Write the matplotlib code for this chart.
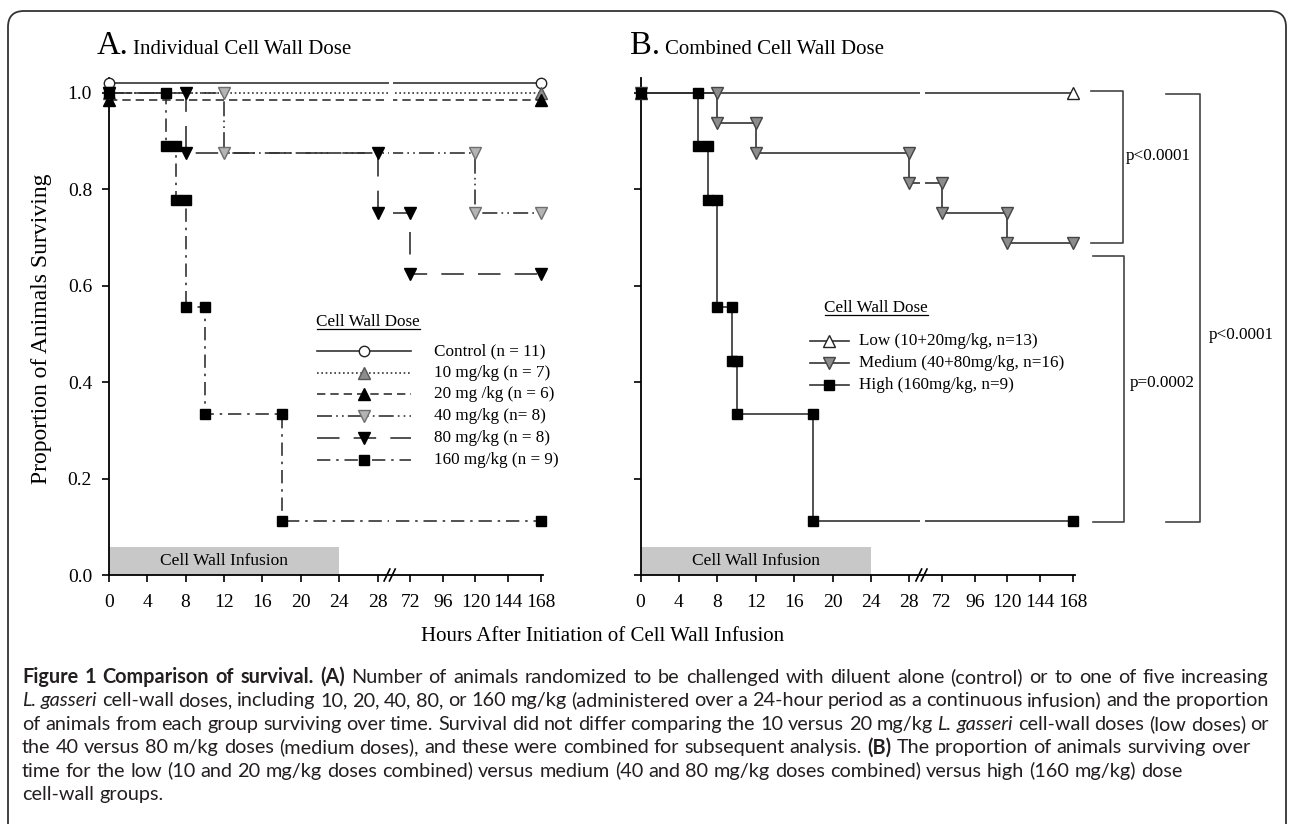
import numpy as np
import matplotlib
matplotlib.use('Agg')
import matplotlib.pyplot as plt
from matplotlib.patches import FancyBboxPatch, Rectangle
from matplotlib.transforms import blended_transform_factory

# ---- data ----
tick_hours = [0, 4, 8, 12, 16, 20, 24, 28, 72, 96, 120, 144, 168]

# Panel A: individual doses (hours, proportion surviving) - vertices of the KM steps
a_ctrl_h = [0, 168]
a_ctrl_s = [1.02, 1.02]          # drawn slightly above 1.0 in the original
a_10_h = [0, 168]
a_10_s = [1.0, 1.0]
a_20_h = [0, 168]
a_20_s = [0.985, 0.985]          # drawn slightly below 1.0 in the original
a_40_h = [0, 12, 12, 120, 120, 168]
a_40_s = [1.0, 1.0, 0.875, 0.875, 0.75, 0.75]
a_80_h = [0, 8, 8, 28, 28, 72, 72, 168]
a_80_s = [1.0, 1.0, 0.875, 0.875, 0.75, 0.75, 0.625, 0.625]
a_160_h = [0, 6, 6, 7, 7, 8, 8, 10, 10, 18, 18, 168]
a_160_s = [1.0, 1.0, 0.889, 0.889, 0.778, 0.778, 0.556, 0.556, 0.333, 0.333, 0.111, 0.111]
a_labels = ['Control (n = 11)', '10 mg/kg (n = 7)', '20 mg /kg (n = 6)',
            '40 mg/kg (n= 8)', '80 mg/kg (n = 8)', '160 mg/kg (n = 9)']

# Panel B: combined doses
b_low_h = [0, 168]
b_low_s = [1.0, 1.0]
b_med_h = [0, 8, 8, 12, 12, 28, 28, 72, 72, 120, 120, 168]
b_med_s = [1.0, 1.0, 0.9375, 0.9375, 0.875, 0.875, 0.8125, 0.8125, 0.75, 0.75, 0.6875, 0.6875]
b_high_h = [0, 6, 6, 7, 7, 8, 8, 9.5, 9.5, 10, 10, 18, 18, 168]
b_high_s = [1.0, 1.0, 0.889, 0.889, 0.778, 0.778, 0.556, 0.556, 0.444, 0.444, 0.333, 0.333, 0.111, 0.111]
b_labels = ['Low (10+20mg/kg, n=13)', 'Medium (40+80mg/kg, n=16)', 'High (160mg/kg, n=9)']

p_labels = ['p<0.0001', 'p=0.0002', 'p<0.0001']

caption = [
    [('Figure 1 Comparison of survival. (A)', 'bold', 'normal'),
     (' Number of animals randomized to be challenged with diluent alone (control) or to one of five increasing', 'normal', 'normal')],
    [('L. gasseri', 'normal', 'italic'),
     (' cell-wall doses, including 10, 20, 40, 80, or 160 mg/kg (administered over a 24-hour period as a continuous infusion) and the proportion', 'normal', 'normal')],
    [('of animals from each group surviving over time. Survival did not differ comparing the 10 versus 20 mg/kg ', 'normal', 'normal'),
     ('L. gasseri', 'normal', 'italic'),
     (' cell-wall doses (low doses) or', 'normal', 'normal')],
    [('the 40 versus 80 m/kg doses (medium doses), and these were combined for subsequent analysis. ', 'normal', 'normal'),
     ('(B)', 'bold', 'normal'),
     (' The proportion of animals surviving over', 'normal', 'normal')],
    [('time for the low (10 and 20 mg/kg doses combined) versus medium (40 and 80 mg/kg doses combined) versus high (160 mg/kg) dose', 'normal', 'normal')],
    [('cell-wall groups.', 'normal', 'normal')],
]
caption_justified = [True, True, True, False, False, False]

# ---- styles ----
LC = '#333333'
a_styles = [
    dict(ls='-', marker='o', mfc='white', mec='#222222', ms=7.5),
    dict(ls=(0, (1, 1.6)), marker='^', mfc='#8c8c8c', mec='#555555', ms=8),
    dict(ls=(0, (5, 3)), marker='^', mfc='black', mec='black', ms=8),
    dict(ls=(0, (9, 2.5, 1, 2.5, 1, 2.5)), marker='v', mfc='#b4b4b4', mec='#6e6e6e', ms=8),
    dict(ls=(0, (13.5, 8.5)), marker='v', mfc='black', mec='black', ms=8),
    dict(ls=(0, (8, 3.5, 1.5, 3.5)), marker='s', mfc='black', mec='black', ms=7),
]
b_styles = [
    dict(ls='-', marker='^', mfc='white', mec='#222222', ms=8),
    dict(ls='-', marker='v', mfc='#8c8c8c', mec='#444444', ms=8),
    dict(ls='-', marker='s', mfc='black', mec='black', ms=7),
]

W, H = 1290, 824
S = 0.85  # relative width of one tick step after the axis break


def fwd(h):
    h = np.asarray(h, dtype=float)
    return np.where(h <= 28, h / 4,
                    np.where(h <= 72, 7 + (h - 28) / 44 * S, 7 + S + (h - 72) / 24 * S))


def inv(p):
    p = np.asarray(p, dtype=float)
    return np.where(p <= 7, p * 4,
                    np.where(p <= 7 + S, 28 + (p - 7) / S * 44, 72 + (p - 7 - S) / S * 24))


def fx(x):
    return x / W


def fy(y):
    return 1 - y / H


plt.rcParams['font.family'] = 'Liberation Serif'
fig = plt.figure(figsize=(W / 100, H / 100), dpi=100)
renderer = fig.canvas.get_renderer()

# figure frame
frame = FancyBboxPatch((0.08, -0.5), 12.78, 8.13 + 0.5,
                       boxstyle='round,pad=0,rounding_size=0.16',
                       transform=fig.dpi_scale_trans, fc='none', ec='#333333', lw=1.3)
fig.add_artist(frame)

ax_w = 434 / W
ax_b = fy(575)
ax_h = 496.8 / H
axA = fig.add_axes([fx(108.7), ax_b, ax_w, ax_h])
axB = fig.add_axes([fx(640.5), ax_b, ax_w, ax_h])


def setup_axis(ax, show_labels):
    ax.set_xscale('function', functions=(fwd, inv))
    ax.set_xlim(0, float(inv(11.3)))
    ax.set_ylim(0, 1.03)
    ax.set_xticks(tick_hours)
    ax.set_xticklabels([str(t) for t in tick_hours])
    ax.minorticks_off()
    ax.set_yticks(np.arange(0, 1.01, 0.2))
    if show_labels:
        ax.set_yticklabels(['%.1f' % v for v in np.arange(0, 1.01, 0.2)])
    else:
        ax.set_yticklabels([])
    for sp in ['top', 'right']:
        ax.spines[sp].set_visible(False)
    for sp in ['left', 'bottom']:
        ax.spines[sp].set_linewidth(1.3)
    ax.tick_params(axis='both', direction='out', length=5, width=1.2, labelsize=14)
    ax.tick_params(axis='x', pad=9)
    ax.tick_params(axis='y', pad=7)
    ax.patch.set_alpha(0)
    # infusion bar
    ax.add_patch(Rectangle((0, 0), 24, 0.058, fc='#c8c8c8', ec='none', zorder=1))
    ax.text(12, 0.028, 'Cell Wall Infusion', ha='center', va='center', fontsize=12.5, zorder=2)
    # gap through the lines at the axis break
    ax.axvspan(float(inv(7.29)), float(inv(7.41)), ymin=0.015, ymax=1.0, color='white', zorder=5, lw=0)
    # break marks on the x axis
    tr = ax.get_xaxis_transform()
    for p0 in [7.17, 7.31]:
        ax.plot([float(inv(p0)), float(inv(p0 + 0.15))], [-0.012, 0.012], color='black', lw=1.2,
                transform=tr, clip_on=False, zorder=6)


setup_axis(axA, True)
setup_axis(axB, False)

# panel A curves
a_series = [(a_ctrl_h, a_ctrl_s), (a_10_h, a_10_s), (a_20_h, a_20_s),
            (a_40_h, a_40_s), (a_80_h, a_80_s), (a_160_h, a_160_s)]
for (h, s), st in zip(a_series, a_styles):
    axA.plot(h, s, color=LC, lw=1.2, ls=st['ls'], marker=st['marker'], ms=st['ms'],
             mfc=st['mfc'], mec=st['mec'], mew=1.0, clip_on=False, zorder=3)

# panel B curves
b_series = [(b_low_h, b_low_s), (b_med_h, b_med_s), (b_high_h, b_high_s)]
for (h, s), st in zip(b_series, b_styles):
    axB.plot(h, s, color=LC, lw=1.2, ls=st['ls'], marker=st['marker'], ms=st['ms'],
             mfc=st['mfc'], mec=st['mec'], mew=1.0, clip_on=False, zorder=3)


# legends drawn by hand (figure pixel positions)
def draw_legend(title_x, x0, x1, xm, xt, title_y, rows_y, labels, styles):
    t = fig.text(fx(title_x), fy(title_y + 5), 'Cell Wall Dose', fontsize=12.3, ha='left', va='baseline')
    bb = t.get_window_extent(renderer)
    fig.add_artist(plt.Line2D([fx(title_x), fx(title_x) + bb.width / W], [fy(title_y + 7.5)] * 2,
                              color='black', lw=0.9, transform=fig.transFigure))
    for y, lab, st in zip(rows_y, labels, styles):
        fig.add_artist(plt.Line2D([fx(x0), fx(x1)], [fy(y)] * 2, color=LC, lw=1.2, ls=st['ls'],
                                  transform=fig.transFigure))
        fig.add_artist(plt.Line2D([fx(xm)], [fy(y)], color=LC, ls='none', marker=st['marker'],
                                  ms=st['ms'], mfc=st['mfc'], mec=st['mec'], mew=1.0,
                                  transform=fig.transFigure))
        fig.text(fx(xt), fy(y), lab, fontsize=12.3, ha='left', va='center')


draw_legend(316.5, 316.5, 411.4, 363.6, 434.4, 321.5,
            [351.2, 372.7, 394.3, 416.0, 437.7, 459.5], a_labels, a_styles)
draw_legend(824.5, 809.5, 848.7, 828.9, 858.8, 307.3, [340.7, 362.7, 385.0], b_labels, b_styles)

# p-value brackets on panel B
btr = blended_transform_factory(axB.transAxes, axB.transData)
brackets = [([1.037, 1.112, 1.112, 1.037], [1.004, 1.004, 0.688, 0.688]),
            ([1.042, 1.114, 1.114, 1.042], [0.662, 0.662, 0.109, 0.109]),
            ([1.210, 1.289, 1.289, 1.210], [0.997, 0.997, 0.109, 0.109])]
for xs, ys in brackets:
    axB.plot(xs, ys, color='#444444', lw=1.2, transform=btr, clip_on=False)
for (x, y), lab in zip([(1.119, 0.868), (1.128, 0.398), (1.31, 0.498)], p_labels):
    axB.text(x, y, lab, transform=btr, fontsize=12.3, ha='left', va='center')

# titles and axis labels
fig.text(fx(96.5), fy(53.5), 'A.', fontsize=23.5, ha='left', va='baseline')
fig.text(fx(132.7), fy(53.5), 'Individual Cell Wall Dose', fontsize=15, ha='left', va='baseline')
fig.text(fx(630), fy(53.5), 'B.', fontsize=23.5, ha='left', va='baseline')
fig.text(fx(665), fy(53.5), 'Combined Cell Wall Dose', fontsize=15, ha='left', va='baseline')
fig.text(fx(41.7), fy(329), 'Proportion of Animals Surviving', fontsize=17, rotation=90,
         ha='center', va='center')
fig.text(fx(603), fy(636.7), 'Hours After Initiation of Cell Wall Infusion', fontsize=15,
         ha='center', va='center')

# caption, word by word so bold/italic parts can be mixed and lines justified
CAP_FONT = 'Lato'
CAP_COLOR = '#231f20'
CAP_LEFT, CAP_RIGHT = 22, 1269


def text_width(s, size, weight, style):
    t = fig.text(0, 0, s, fontsize=size, fontweight=weight, fontstyle=style, family=CAP_FONT)
    w = t.get_window_extent(renderer).width
    t.remove()
    return w


def split_words(runs):
    words = []
    pending = False
    for s, weight, style in runs:
        for i, part in enumerate(s.split(' ')):
            if i > 0:
                pending = True
            if part:
                words.append((part, weight, style, pending))
                pending = False
    return words


def line_layout(runs, size):
    words = split_words(runs)
    sp = text_width('n n', size, 'normal', 'normal') - text_width('nn', size, 'normal', 'normal')
    widths = [text_width(w[0], size, w[1], w[2]) for w in words]
    n_gaps = sum(1 for w in words if w[3])
    natural = sum(widths) + n_gaps * sp
    return words, widths, sp, n_gaps, natural


def draw_line(runs, y, size, justify):
    words, widths, sp, n_gaps, natural = line_layout(runs, size)
    if justify and n_gaps:
        sp += (CAP_RIGHT - CAP_LEFT - natural) / n_gaps
    x = CAP_LEFT
    for (s, weight, style, gap), w in zip(words, widths):
        if gap:
            x += sp
        fig.text(fx(x), fy(y), s, fontsize=size, fontweight=weight, fontstyle=style,
                 family=CAP_FONT, color=CAP_COLOR, ha='left', va='baseline')
        x += w


base = 10.0
cap_size = 0.98 * base * (CAP_RIGHT - CAP_LEFT) / line_layout(caption[0], base)[4]
for i, runs in enumerate(caption):
    draw_line(runs, 683 + 23.4 * i, cap_size, caption_justified[i])

fig.savefig('out.png', dpi=100)
